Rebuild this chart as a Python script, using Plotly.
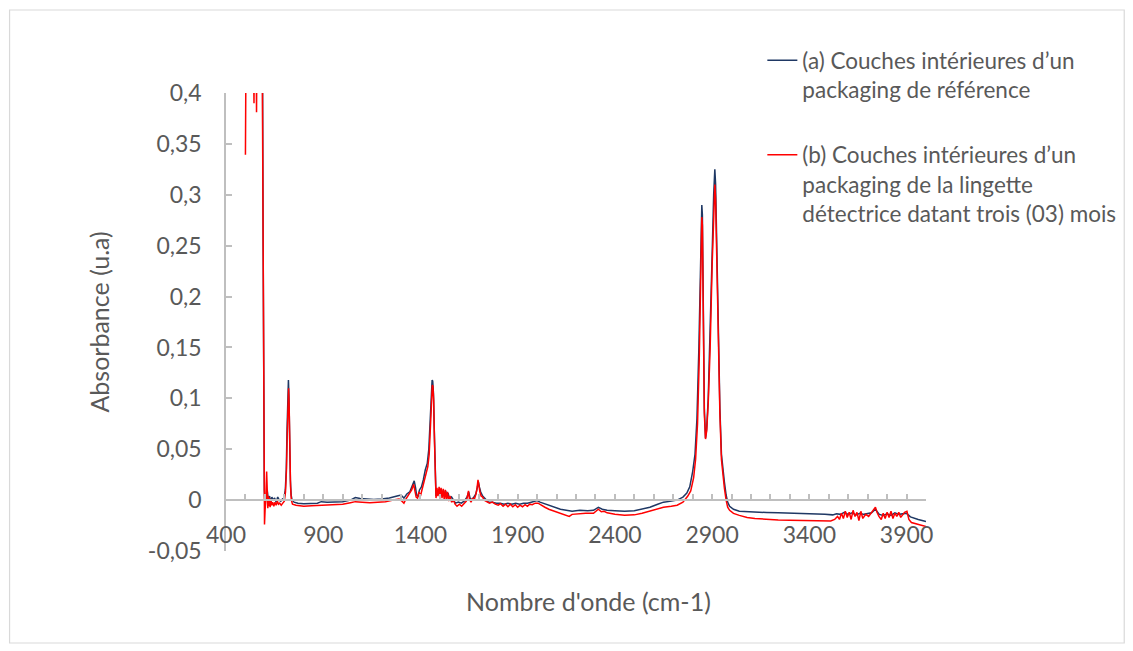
import plotly.graph_objects as go

# ---------------- data ----------------
wn_a = [580, 588, 591, 594, 597, 600, 604, 608, 612, 618, 624, 630, 636, 642, 650, 658, 666, 674, 682, 690,
        698, 705, 710, 714, 718, 721, 724, 727, 731, 735, 740, 750, 770, 800, 840, 870, 890, 920, 960, 1000,
        1040, 1065, 1090, 1120, 1160, 1200, 1240, 1280, 1300, 1315, 1330, 1345, 1360, 1368, 1375, 1380, 1388,
        1395, 1405, 1415, 1425, 1435, 1443, 1450, 1456, 1460, 1463, 1467, 1471, 1475, 1480, 1490, 1495, 1500,
        1505, 1512, 1518, 1524, 1530, 1536, 1542, 1550, 1560, 1570, 1580, 1595, 1610, 1625, 1640, 1648, 1655,
        1665, 1675, 1685, 1692, 1698, 1703, 1710, 1720, 1735, 1750, 1770, 1790, 1810, 1830, 1850, 1870, 1890,
        1910, 1930, 1950, 1970, 1985, 2000, 2015, 2030, 2060, 2090, 2120, 2150, 2180, 2220, 2260, 2290, 2315,
        2335, 2360, 2400, 2450, 2500, 2540, 2580, 2620, 2650, 2690, 2720, 2750, 2770, 2785, 2800, 2812, 2822,
        2832, 2840, 2847, 2850, 2855, 2860, 2866, 2872, 2880, 2890, 2900, 2908, 2914, 2918, 2925, 2932, 2940,
        2948, 2955, 2963, 2972, 2980, 2990, 3010, 3040, 3080, 3120, 3180, 3240, 3300, 3360, 3420, 3480, 3520,
        3540, 3560, 3580, 3600, 3620, 3640, 3660, 3680, 3700, 3720, 3740, 3750, 3760, 3780, 3800, 3820, 3840,
        3860, 3880, 3900, 3920, 3940, 3960, 3980, 4000]
abs_a = [0.45, 0.42, 0.25, 0.08, 0.01, -0.002, 0.006, 0.0, 0.01, -0.001, 0.004, -0.002, 0.003, 0.0, 0.002,
         -0.002, 0.003, 0.0, -0.001, 0.001, 0.002, 0.01, 0.03, 0.07, 0.105, 0.118, 0.10, 0.06, 0.02, 0.005,
         0.0, -0.002, -0.003, -0.0035, -0.003, -0.003, -0.0015, -0.002, -0.0018, -0.0015, 0.0, 0.0025, 0.0015,
         0.001, 0.0005, 0.001, 0.002, 0.004, 0.005, 0.002, 0.006, 0.008, 0.016, 0.019, 0.012, 0.005, 0.004,
         0.01, 0.013, 0.02, 0.03, 0.036, 0.05, 0.08, 0.105, 0.118, 0.117, 0.105, 0.07, 0.025, 0.004, 0.006,
         0.01, 0.003, 0.011, 0.004, 0.01, 0.003, 0.009, 0.002, 0.007, 0.001, 0.003, 0.0, -0.003, -0.002,
         -0.003, -0.001, 0.003, 0.008, 0.002, 0.0, 0.003, 0.006, 0.012, 0.018, 0.013, 0.008, 0.004, 0.001,
         -0.002, -0.002, -0.003, -0.003, -0.004, -0.003, -0.004, -0.003, -0.004, -0.003, -0.003, -0.002,
         -0.001, -0.0005, -0.002, -0.003, -0.005, -0.007, -0.009, -0.01, -0.011, -0.01, -0.0105, -0.01,
         -0.007, -0.009, -0.01, -0.0105, -0.011, -0.0105, -0.0085, -0.007, -0.004, -0.002, -0.001, 0.0, 0.003,
         0.007, 0.013, 0.028, 0.045, 0.08, 0.15, 0.24, 0.29, 0.28, 0.18, 0.09, 0.061, 0.07, 0.1, 0.16, 0.24,
         0.3, 0.325, 0.31, 0.24, 0.16, 0.09, 0.045, 0.03, 0.018, 0.005, -0.002, -0.006, -0.009, -0.011,
         -0.0115, -0.012, -0.0122, -0.0125, -0.0127, -0.013, -0.0135, -0.014, -0.0145, -0.0135, -0.014,
         -0.012, -0.014, -0.0125, -0.0145, -0.013, -0.014, -0.0135, -0.0125, -0.009, -0.011, -0.014, -0.015,
         -0.0135, -0.015, -0.0125, -0.014, -0.0135, -0.013, -0.0165, -0.018, -0.019, -0.020, -0.021]

wn_b = [496, 500, 503, 540, 544, 546, 555, 557, 559, 586, 589, 592, 595, 598, 601, 605, 609, 612, 615, 618,
        621, 624, 627, 631, 635, 640, 646, 652, 658, 664, 670, 676, 684, 692, 700, 706, 711, 715, 719, 722,
        725, 728, 732, 736, 742, 760, 800, 840, 880, 920, 960, 1000, 1040, 1065, 1100, 1140, 1180, 1220, 1260,
        1290, 1305, 1315, 1325, 1340, 1355, 1365, 1372, 1378, 1385, 1392, 1400, 1410, 1420, 1430, 1438, 1445,
        1451, 1456, 1461, 1464, 1468, 1472, 1476, 1480, 1485, 1490, 1496, 1500, 1506, 1511, 1517, 1522, 1528,
        1533, 1539, 1545, 1552, 1560, 1570, 1578, 1588, 1600, 1612, 1625, 1636, 1642, 1647, 1652, 1660, 1668,
        1676, 1684, 1690, 1696, 1700, 1706, 1712, 1720, 1728, 1740, 1755, 1770, 1785, 1800, 1812, 1825, 1838,
        1850, 1862, 1875, 1888, 1900, 1912, 1925, 1938, 1950, 1962, 1975, 1990, 2005, 2020, 2040, 2060, 2090,
        2120, 2150, 2165, 2180, 2210, 2250, 2290, 2315, 2330, 2345, 2360, 2400, 2450, 2500, 2540, 2580, 2620,
        2650, 2690, 2720, 2750, 2775, 2790, 2805, 2815, 2825, 2834, 2841, 2847, 2850, 2855, 2860, 2866, 2872,
        2880, 2890, 2900, 2908, 2914, 2918, 2925, 2932, 2940, 2948, 2955, 2963, 2972, 2980, 2990, 3010, 3040,
        3080, 3120, 3180, 3240, 3300, 3360, 3420, 3480, 3510, 3530, 3545, 3555, 3565, 3575, 3585, 3595, 3605,
        3615, 3625, 3635, 3645, 3655, 3665, 3675, 3690, 3705, 3720, 3732, 3740, 3748, 3758, 3770, 3780, 3790,
        3800, 3810, 3820, 3830, 3840, 3850, 3860, 3870, 3880, 3890, 3902, 3912, 3925, 3945, 3965, 3985, 4000]
abs_b = [0.34, 0.34, 0.45, 0.45, 0.39, 0.45, 0.45, 0.381, 0.45, 0.45, 0.3, 0.12, 0.03, -0.024, -0.01, 0.0,
         0.028, 0.015, -0.008, 0.004, -0.006, 0.002, -0.007, 0.0, -0.005, -0.002, -0.006, -0.002, -0.005,
         -0.001, -0.004, -0.003, -0.005, -0.003, -0.001, 0.008, 0.03, 0.065, 0.1, 0.11, 0.09, 0.05, 0.013,
         0.0, -0.004, -0.005, -0.006, -0.0055, -0.005, -0.0045, -0.0045, -0.004, -0.0025, -0.0015, -0.002,
         -0.0025, -0.002, -0.0015, 0.0, 0.001, -0.001, -0.003, 0.001, 0.005, 0.01, 0.0155, 0.01, 0.003, 0.002,
         0.008, 0.004, 0.012, 0.02, 0.027, 0.033, 0.045, 0.075, 0.1, 0.113, 0.112, 0.098, 0.06, 0.02, 0.002,
         0.012, 0.004, 0.013, 0.003, 0.012, 0.002, 0.011, 0.001, 0.01, 0.0, 0.008, -0.001, 0.004, -0.002, 0.0,
         -0.004, -0.006, -0.004, -0.006, -0.003, -0.001, 0.004, 0.009, 0.001, -0.002, 0.002, 0.0, 0.005, 0.01,
         0.02, 0.013, 0.008, 0.004, 0.003, 0.0, -0.001, -0.003, -0.002, -0.004, -0.005, -0.0035, -0.006,
         -0.004, -0.0065, -0.004, -0.0065, -0.0045, -0.007, -0.005, -0.0065, -0.0045, -0.006, -0.004, -0.0045,
         -0.003, -0.003, -0.005, -0.007, -0.009, -0.011, -0.013, -0.0145, -0.016, -0.014, -0.0135, -0.013,
         -0.013, -0.009, -0.0115, -0.011, -0.0125, -0.014, -0.0148, -0.0145, -0.013, -0.011, -0.0085, -0.007,
         -0.006, -0.005, -0.002, 0.004, 0.009, 0.022, 0.04, 0.075, 0.14, 0.23, 0.278, 0.27, 0.17, 0.085, 0.06,
         0.068, 0.095, 0.15, 0.23, 0.29, 0.31, 0.295, 0.225, 0.15, 0.085, 0.04, 0.025, 0.012, 0.0, -0.007,
         -0.01, -0.013, -0.015, -0.017, -0.018, -0.019, -0.0195, -0.0198, -0.020, -0.0205, -0.021, -0.0205,
         -0.019, -0.016, -0.019, -0.013, -0.018, -0.011, -0.017, -0.012, -0.019, -0.010, -0.016, -0.012,
         -0.02, -0.011, -0.018, -0.014, -0.016, -0.012, -0.009, -0.007, -0.012, -0.016, -0.019, -0.013,
         -0.018, -0.012, -0.017, -0.011, -0.018, -0.013, -0.016, -0.012, -0.017, -0.014, -0.012, -0.011,
         -0.019, -0.022, -0.023, -0.0245, -0.0255, -0.026]

name_a = "(a) Couches intérieures d’un<br>packaging de référence"
name_b = "(b) Couches intérieures d’un<br>packaging de la lingette<br>détectrice datant trois (03) mois"

x_tick_vals = [400, 900, 1400, 1900, 2400, 2900, 3400, 3900]
x_tick_text = ["400", "900", "1400", "1900", "2400", "2900", "3400", "3900"]
y_tick_vals = [-0.05, 0, 0.05, 0.1, 0.15, 0.2, 0.25, 0.3, 0.35, 0.4]
y_tick_text = ["-0,05", "0", "0,05", "0,1", "0,15", "0,2", "0,25", "0,3", "0,35", "0,4"]
x_title = "Nombre d'onde (cm-1)"
y_title = "Absorbance (u.a)"

# ---------------- figure ----------------
FONT = "Lato"
GREY_TXT = "#595959"
AXIS_GREY = "#BFBFBF"

fig = go.Figure()
fig.add_trace(go.Scatter(x=wn_a, y=abs_a, mode="lines", name=name_a, legendgroup="a",
                         line=dict(color="#1F3864", width=1.5)))
fig.add_trace(go.Scatter(x=wn_b, y=abs_b, mode="lines", name=name_b, legendgroup="b",
                         line=dict(color="#FF0000", width=1.5)))
# empty helper trace so the label axis is instantiated
fig.add_trace(go.Scatter(x=[], y=[], xaxis="x2", showlegend=False, hoverinfo="skip"))

OFF = 8  # page body margin in the browser
W, H = 1117, 636
# plot-area edges in screenshot pixels
X0S, X1S, Y0S, Y1S = 225.5, 925.7, 93, 551
L = X0S - OFF
R = W - (X1S - OFF)
T = Y0S - OFF
B = H - (Y1S - OFF)
pw, ph = W - L - R, H - T - B


def px_x(p):
    return (p - OFF - L) / pw


def px_y(p):
    return (H - B - (p - OFF)) / ph


TICK_FS = 23
LEG_FS = 22.5
TITLE_FS = 25

fig.update_layout(
    width=W, height=H,
    margin=dict(l=L, r=R, t=T, b=B, autoexpand=False),
    paper_bgcolor="white", plot_bgcolor="white",
    font=dict(family=FONT, color=GREY_TXT, size=TICK_FS),
    xaxis=dict(range=[400, 4000], domain=[0, 1], anchor="free", position=0.05 / 0.45,
               showline=True, linecolor=AXIS_GREY, linewidth=1.5,
               ticks="inside", ticklen=5, tickwidth=1.5, tickcolor=AXIS_GREY,
               tick0=400, dtick=100, showticklabels=False, showgrid=False, zeroline=False),
    xaxis2=dict(range=[400, 4000], overlaying="x", anchor="free", position=px_y(519),
                showline=False, ticks="", tickvals=x_tick_vals, ticktext=x_tick_text,
                tickfont=dict(family=FONT, size=TICK_FS, color=GREY_TXT),
                showgrid=False, zeroline=False),
    yaxis=dict(range=[-0.05, 0.4], domain=[0, 1], showline=True, linecolor=AXIS_GREY, linewidth=1.5,
               ticks="inside", ticklen=6, tickwidth=1.5, tickcolor=AXIS_GREY,
               tickvals=y_tick_vals, ticktext=y_tick_text, ticklabelstandoff=18,
               tickfont=dict(family=FONT, size=TICK_FS, color=GREY_TXT),
               showgrid=False, zeroline=False),
    showlegend=True,
    legend=dict(x=px_x(762), y=px_y(39), xanchor="left", yanchor="top",
                font=dict(family=FONT, size=LEG_FS, color=GREY_TXT),
                valign="top", tracegroupgap=33, traceorder="grouped",
                bgcolor="rgba(0,0,0,0)"),
    annotations=[
        dict(text=x_title, xref="paper", yref="paper", x=px_x(588), y=px_y(601),
             xanchor="center", yanchor="middle", showarrow=False,
             font=dict(family=FONT, size=TITLE_FS, color=GREY_TXT)),
        dict(text=y_title, xref="paper", yref="paper", x=px_x(98), y=px_y(322),
             xanchor="center", yanchor="middle", showarrow=False, textangle=-90,
             font=dict(family=FONT, size=TITLE_FS, color=GREY_TXT)),
    ],
    shapes=[dict(type="rect", xref="paper", yref="paper",
                 x0=px_x(9), x1=px_x(1124), y0=px_y(643), y1=px_y(10),
                 line=dict(color="#D9D9D9", width=1.2), fillcolor="rgba(0,0,0,0)", layer="below")],
)

fig.write_html("out.html")
